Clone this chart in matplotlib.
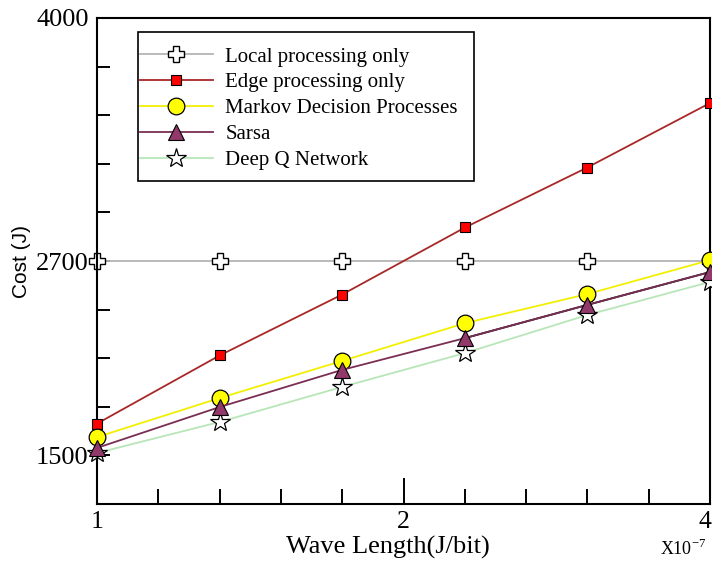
import numpy as np
import matplotlib
matplotlib.use("Agg")
import matplotlib.pyplot as plt
import matplotlib.transforms as mtransforms
from matplotlib.patches import Rectangle
from matplotlib.ticker import FixedLocator, FixedFormatter, NullFormatter

# wave length (x10^-7 J/bit) and cost (J) per scheme
wave_length = [1.0, 1.32, 1.74, 2.30, 3.03, 4.0]
cost_local = [2700, 2700, 2700, 2700, 2700, 2700]
cost_edge = [1830, 2195, 2520, 2880, 3200, 3545]
cost_mdp = [1758, 1967, 2165, 2368, 2523, 2705]
cost_sarsa = [1700, 1919, 2117, 2288, 2465, 2641]
cost_dqn = [1673, 1839, 2026, 2208, 2411, 2588]

series_names = ["Local processing only", "Edge processing only",
                "Markov Decision Processes", "Sarsa", "Deep Q Network"]

xtick_pos = [1, 2, 4]
xtick_labels = ["1", "2", "4"]
ytick_pos = [1660, 2700, 4000]
ytick_labels = ["1500", "2700", "4000"]

W, H = 712, 564
plt.rcParams["font.family"] = "Liberation Serif"

fig = plt.figure(figsize=(W / 100, H / 100), dpi=100)
ax = fig.add_axes([97 / W, 1 - 504 / H, 613 / W, 486 / H])

common = dict(lw=1.3, clip_on=False)
h_local, = ax.plot(wave_length, cost_local, color="#b4b4b4", marker="P", ms=11,
                   mfc="white", mec="black", mew=1.0, zorder=2, **common)
h_edge, = ax.plot(wave_length, cost_edge, color="#a82828", marker="s", ms=7,
                  mfc="#ff0000", mec="black", mew=0.8, zorder=3, **common)
h_dqn, = ax.plot(wave_length, cost_dqn, color="#b8e6b8", marker="*", ms=15,
                 mfc="white", mec="black", mew=0.9, zorder=3.5, **common)
h_mdp, = ax.plot(wave_length, cost_mdp, color="#f2f000", marker="o", ms=12,
                 mfc="#ffff00", mec="black", mew=0.9, zorder=4, **common)
h_sarsa, = ax.plot(wave_length, cost_sarsa, color="#7a2e52", marker="^", ms=11,
                   mfc="#92386a", mec="black", mew=0.8, zorder=5, **common)
# last segments of the Sarsa curve are drawn in black
ax.plot(wave_length[3:], cost_sarsa[3:], color="black", lw=1.3, zorder=4.9)

ax.set_xscale("log", base=2)
ax.set_xlim(1, 4)
ax.set_ylim(1400, 4000)

ax.xaxis.set_major_locator(FixedLocator(xtick_pos))
ax.xaxis.set_major_formatter(FixedFormatter(xtick_labels))
ax.xaxis.set_minor_locator(FixedLocator([2 ** (k / 5) for k in range(11) if k % 5]))
ax.xaxis.set_minor_formatter(NullFormatter())

ax.yaxis.set_major_locator(FixedLocator(ytick_pos))
ax.yaxis.set_major_formatter(FixedFormatter(ytick_labels))
ax.yaxis.set_minor_locator(FixedLocator(np.arange(1400, 4001, 260)))

ax.tick_params(axis="x", which="major", direction="in", length=19, width=1.4,
               labelsize=18.5, pad=5)
ax.tick_params(axis="x", which="minor", direction="in", length=11, width=1.4)
ax.tick_params(axis="y", which="both", direction="in", length=9.5, width=1.4,
               labelsize=19, pad=6)
ax.tick_params(top=False, right=False)
for sp in ax.spines.values():
    sp.set_linewidth(1.5)

# pull the last x label in a little so it stays inside the figure
fig.canvas.draw()
last_lbl = ax.xaxis.get_majorticklabels()[-1]
last_lbl.set_transform(last_lbl.get_transform() +
                       mtransforms.ScaledTranslation(-5 / 100, 0, fig.dpi_scale_trans))

ax.set_xlabel("Wave Length(J/bit)", fontsize=19)
ax.xaxis.set_label_coords((388 - 97) / 613, -(536 - 504) / 486)
ax.set_ylabel("Cost (J)", fontsize=15, family="Liberation Sans")
ax.yaxis.set_label_coords(-(97 - 31) / 613, 0.5)

fig.text(660 / W, 1 - 549 / H, r"X10$^{\mathregular{-7}}$", fontsize=13,
         ha="left", va="center")

# legend entries without their own frame, boxed by a plain rectangle
leg = ax.legend([h_local, h_edge, h_mdp, h_sarsa, h_dqn], series_names,
                loc="upper left", bbox_to_anchor=(140 / W, 1 - 47 / H),
                bbox_transform=fig.transFigure, fontsize=15, frameon=False,
                handlelength=3.5, handletextpad=0.6, labelspacing=0.3,
                borderpad=0, borderaxespad=0)
for h in leg.legend_handles:
    h.set_clip_on(False)
fig.patches.append(Rectangle((138 / W, 1 - 181 / H), 336 / W, 149 / H,
                             transform=fig.transFigure, fill=False,
                             edgecolor="black", lw=1.2, zorder=6))

fig.savefig("out.png", dpi=100)
